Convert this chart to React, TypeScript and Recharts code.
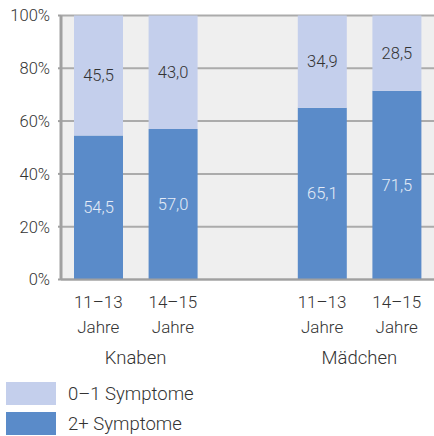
import { BarChart, Bar, XAxis, YAxis, CartesianGrid, LabelList } from 'recharts'

const ageGroups = ['11–13', '14–15', '', '11–13', '14–15']
const sexGroups = ['Knaben', '', '', 'Mädchen', '']
const lowSymptoms = [45.5, 43.0, null, 34.9, 28.5]
const highSymptoms = [54.5, 57.0, null, 65.1, 71.5]
const yTicks = [0, 20, 40, 60, 80, 100]

const LIGHT = '#c4cfec'
const DARK = '#5a8bc9'
const FONT = 'Roboto, "Noto Sans", sans-serif'

const data = ageGroups.map((age, i) => ({
    key: `c${i}`,
    age,
    sex: sexGroups[i],
    high: highSymptoms[i],
    low: lowSymptoms[i],
}))

const WIDTH = 434
const HEIGHT = 436
const Y_AXIS_W = 61
const HALF_SLOT = (WIDTH - Y_AXIS_W) / data.length / 2

const fmt = (v: any) => (v == null ? '' : Number(v).toFixed(1).replace('.', ','))

const AgeTick = ({ x, y, index }: any) => {
    const row = data[index]
    if (!row) return null
    return (
        <g>
            {row.age && (
                <text x={x} y={y} textAnchor="middle" fill="#333" fontSize={17} fontFamily={FONT} fontWeight={300}>
                    <tspan x={x} dy={28}>{row.age}</tspan>
                    <tspan x={x} dy={25}>Jahre</tspan>
                </text>
            )}
            {row.sex && (
                <text x={x + HALF_SLOT} y={y + 84} textAnchor="middle" fill="#333" fontSize={18.5} fontFamily={FONT} fontWeight={300}>
                    {row.sex}
                </text>
            )}
        </g>
    )
}

export default function App() {
    return (
        <div style={{ position: 'absolute', left: 0, top: 0, width: WIDTH, height: HEIGHT, fontFamily: FONT }}>
            <BarChart
                width={WIDTH}
                height={HEIGHT}
                data={data}
                margin={{ top: 15.5, right: 0, left: 0, bottom: 56.5 }}
                barSize={49}
            >
                <CartesianGrid vertical={false} stroke="#ababab" strokeWidth={2} fill="#efefef" />
                <XAxis
                    dataKey="key"
                    height={100}
                    tick={<AgeTick />}
                    tickLine={false}
                    tickSize={0}
                    tickMargin={0}
                    axisLine={{ stroke: '#a0a0a0', strokeWidth: 2 }}
                    interval={0}
                />
                <YAxis
                    width={Y_AXIS_W}
                    domain={[0, 100]}
                    ticks={yTicks}
                    tickFormatter={(v) => `${v}%`}
                    tickSize={3}
                    tickMargin={8}
                    tickLine={{ stroke: '#a0a0a0', strokeWidth: 2 }}
                    axisLine={{ stroke: '#a0a0a0', strokeWidth: 3 }}
                    tick={{ fill: '#333', fontSize: 16.5, fontFamily: FONT, fontWeight: 300 }}
                />
                <Bar dataKey="high" stackId="a" fill={DARK} isAnimationActive={false}>
                    <LabelList dataKey="high" position="center" formatter={fmt} fill="#e4ebf7" fontSize={16.5} fontFamily={FONT} fontWeight={300} />
                </Bar>
                <Bar dataKey="low" stackId="a" fill={LIGHT} isAnimationActive={false}>
                    <LabelList dataKey="low" position="center" formatter={fmt} fill="#333" fontSize={16.5} fontFamily={FONT} fontWeight={300} />
                </Bar>
            </BarChart>
            <div style={{ position: 'absolute', left: 6, top: 382, fontSize: 18.5, fontWeight: 300, color: '#333' }}>
                {[
                    { label: '0–1 Symptome', color: LIGHT },
                    { label: '2+ Symptome', color: DARK },
                ].map((item, i) => (
                    <div key={i} style={{ display: 'flex', alignItems: 'center', height: 23, marginBottom: 7 }}>
                        <div style={{ width: 50, height: 23, background: item.color }} />
                        <span style={{ marginLeft: 12 }}>{item.label}</span>
                    </div>
                ))}
            </div>
        </div>
    )
}
